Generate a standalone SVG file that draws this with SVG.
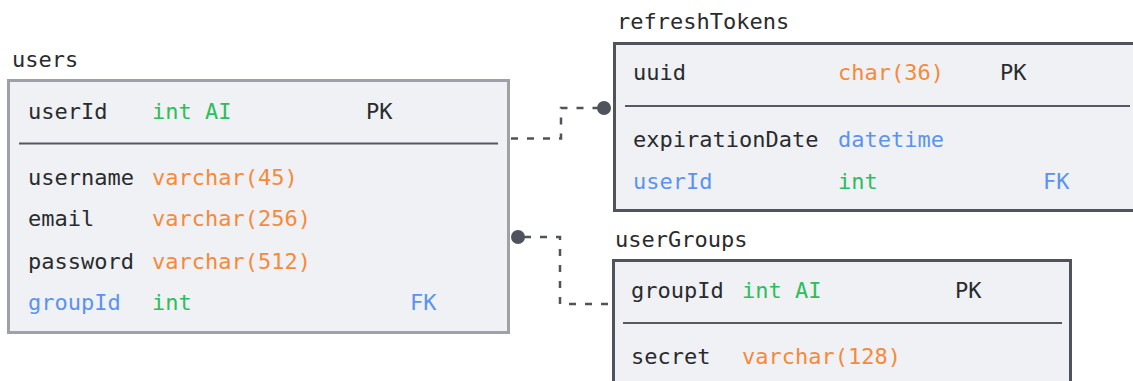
<svg xmlns="http://www.w3.org/2000/svg" width="1133" height="381" viewBox="0 0 1133 381">
  <style>
    text { font-family: "DejaVu Sans Mono", "Liberation Mono", monospace; font-size: 22px; fill: #2a2b2e; }
    .type-g { fill: #2fbd5c; }
    .type-o { fill: #f7893a; }
    .type-b { fill: #5b93f0; }
    .box { fill: #eff1f4; stroke-width: 3; }
    .box-light { stroke: #9ea1a8; }
    .box-dark { stroke: #50535b; }
    .sep { stroke: #565961; stroke-width: 2; }
    .link { fill: none; stroke: #50535b; stroke-width: 2.5; stroke-dasharray: 7 9; }
    .dot { fill: #50535b; }
  </style>

  <!-- users table -->
  <g id="users">
    <text x="12" y="67">users</text>
    <rect class="box box-light" x="8.5" y="80.5" width="500" height="252"/>
    <text x="28" y="119">userId</text>
    <text class="type-g" x="152" y="119">int AI</text>
    <text x="366" y="119">PK</text>
    <line class="sep" x1="19" y1="143.5" x2="498" y2="143.5"/>
    <text x="28" y="185">username</text>
    <text class="type-o" x="152" y="185">varchar(45)</text>
    <text x="28" y="226">email</text>
    <text class="type-o" x="152" y="226">varchar(256)</text>
    <text x="28" y="269">password</text>
    <text class="type-o" x="152" y="269">varchar(512)</text>
    <text class="type-b" x="28" y="310">groupId</text>
    <text class="type-g" x="152" y="310">int</text>
    <text class="type-b" x="410" y="310">FK</text>
  </g>

  <!-- refreshTokens table -->
  <g id="refreshTokens">
    <text x="617" y="29">refreshTokens</text>
    <rect class="box box-dark" x="614.5" y="43.5" width="530" height="167"/>
    <text x="633" y="80">uuid</text>
    <text class="type-o" x="838" y="80">char(36)</text>
    <text x="1000" y="80">PK</text>
    <line class="sep" x1="625" y1="106" x2="1130" y2="106"/>
    <text x="633" y="147">expirationDate</text>
    <text class="type-b" x="838" y="147">datetime</text>
    <text class="type-b" x="633" y="189">userId</text>
    <text class="type-g" x="838" y="189">int</text>
    <text class="type-b" x="1043" y="189">FK</text>
  </g>

  <!-- userGroups table -->
  <g id="userGroups">
    <text x="615" y="247">userGroups</text>
    <rect class="box box-dark" x="613.5" y="260.5" width="457" height="140"/>
    <text x="631" y="298">groupId</text>
    <text class="type-g" x="742" y="298">int AI</text>
    <text x="955" y="298">PK</text>
    <line class="sep" x1="623" y1="323" x2="1062" y2="323"/>
    <text x="631" y="364">secret</text>
    <text class="type-o" x="742" y="364">varchar(128)</text>
  </g>

  <!-- relationships -->
  <g id="connectors">
    <path class="link" d="M511 138.5 H561 V108 H598"/>
    <circle class="dot" cx="604" cy="108" r="7"/>
    <path class="link" d="M524 237 H560 V304 H612"/>
    <circle class="dot" cx="518" cy="237" r="7"/>
  </g>
</svg>
